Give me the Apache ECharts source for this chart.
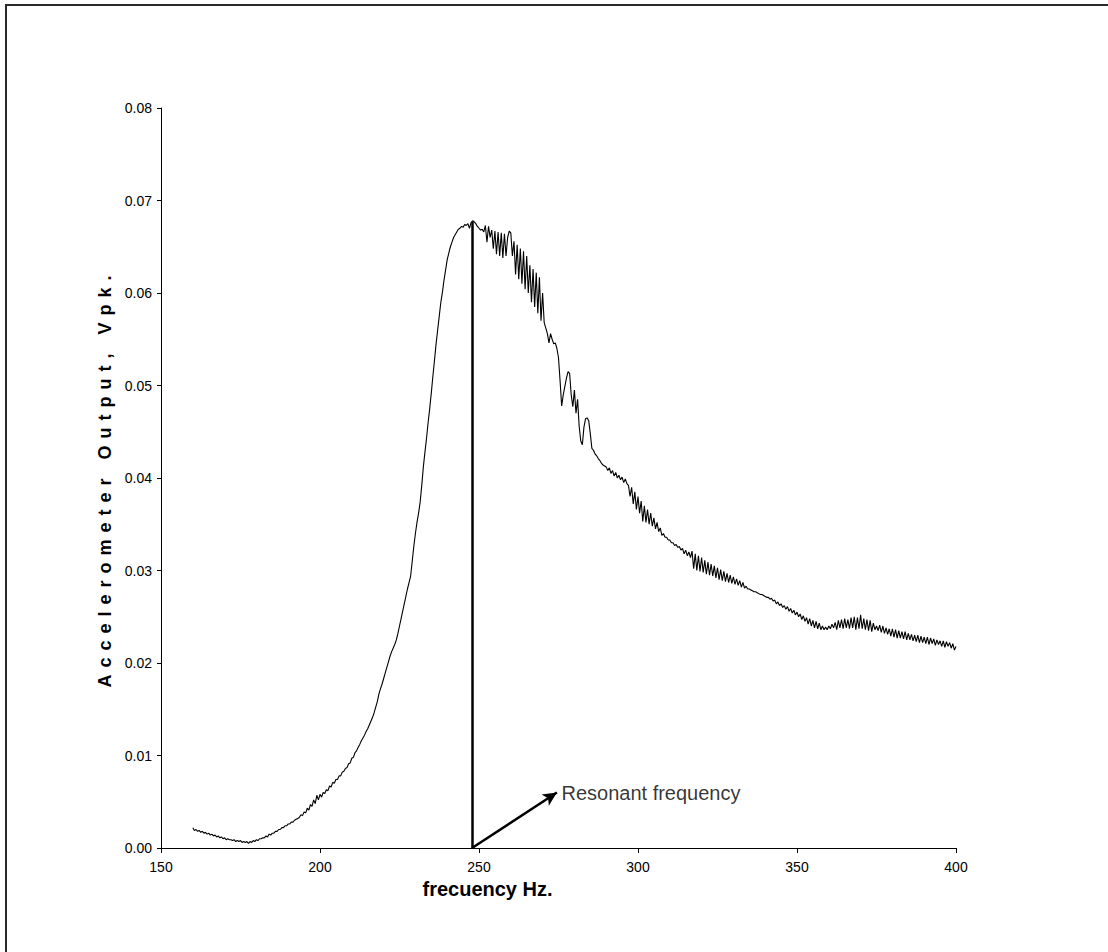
<!DOCTYPE html>
<html>
<head>
<meta charset="utf-8">
<script src="https://cdn.jsdelivr.net/npm/echarts@6/dist/echarts.min.js"></script>
<style>
  html, body { margin: 0; padding: 0; background: #fff; }
  #chart { width: 1108px; height: 952px; }
</style>
</head>
<body>
<div id="chart"></div>
<script>
// ---- data ----
var xTitle = 'frecuency Hz.';
var yTitle = 'Accelerometer Output, Vpk.';
var xTicks = [150, 200, 250, 300, 350, 400];
var yTicks = [0, 0.01, 0.02, 0.03, 0.04, 0.05, 0.06, 0.07, 0.08];

// sampling grid of the measured sweep: start frequency and step (Hz)
var freqStart = 160;
var freqStep = 0.5;

// accelerometer output (Vpk), one value every 0.5 Hz from 160 Hz to 400 Hz
var amplitude = [
  // 160
  0.0022,0.0019,0.0020,0.0018,0.0019,0.0017,0.0018,0.0016,0.0017,0.0015,
  // 165
  0.0016,0.0014,0.0015,0.0013,0.0014,0.0012,0.0013,0.0011,0.0012,0.0010,
  // 170
  0.0011,0.0009,0.0010,0.0009,0.0009,0.0008,0.0009,0.0007,0.0008,0.0007,
  // 175
  0.0008,0.0006,0.0007,0.0006,0.0007,0.0005,0.0007,0.0006,0.0008,0.0007,
  // 180
  0.0009,0.0008,0.0010,0.0010,0.0011,0.0011,0.0013,0.0012,0.0015,0.0014,
  // 185
  0.0016,0.0016,0.0018,0.0018,0.0020,0.0020,0.0022,0.0022,0.0024,0.0024,
  // 190
  0.0026,0.0026,0.0028,0.0028,0.0030,0.0031,0.0032,0.0033,0.0036,0.0035,
  // 195
  0.0039,0.0038,0.0043,0.0041,0.0047,0.0045,0.0052,0.0048,0.0057,0.0052,
  // 200
  0.0058,0.0055,0.0060,0.0059,0.0063,0.0062,0.0067,0.0066,0.0071,0.0070,
  // 205
  0.0074,0.0074,0.0078,0.0078,0.0082,0.0083,0.0086,0.0087,0.0091,0.0092,
  // 210
  0.0097,0.0098,0.0103,0.0105,0.0109,0.0112,0.0116,0.0119,0.0122,0.0126,
  // 215
  0.0129,0.0133,0.0137,0.0141,0.0146,0.0152,0.0158,0.0166,0.0172,0.0177,
  // 220
  0.0183,0.0189,0.0195,0.0201,0.0207,0.0212,0.0216,0.0220,0.0225,0.0232,
  // 225
  0.0240,0.0248,0.0256,0.0264,0.0272,0.0280,0.0287,0.0294,0.0310,0.0326,
  // 230
  0.0340,0.0352,0.0362,0.0374,0.0392,0.0412,0.0428,0.0443,0.0460,0.0475,
  // 235
  0.0492,0.0510,0.0527,0.0545,0.0560,0.0575,0.0590,0.0601,0.0614,0.0625,
  // 240
  0.0636,0.0643,0.0650,0.0655,0.0660,0.0663,0.0666,0.0669,0.0670,0.0672,
  // 245
  0.0671,0.0674,0.0673,0.0675,0.0670,0.0676,0.0678,0.0677,0.0675,0.0672,
  // 250
  0.0670,0.0668,0.0669,0.0666,0.0673,0.0655,0.0672,0.0660,0.0668,0.0648,
  // 255
  0.0667,0.0642,0.0666,0.0640,0.0665,0.0638,0.0664,0.0640,0.0660,0.0667,
  // 260
  0.0665,0.0640,0.0656,0.0620,0.0652,0.0615,0.0648,0.0610,0.0645,0.0604,
  // 265
  0.0640,0.0600,0.0630,0.0590,0.0626,0.0585,0.0622,0.0578,0.0617,0.0570,
  // 270
  0.0600,0.0568,0.0562,0.0556,0.0546,0.0556,0.0550,0.0545,0.0546,0.0540,
  // 275
  0.0530,0.0505,0.0478,0.0490,0.0499,0.0508,0.0515,0.0513,0.0490,0.0477,
  // 280
  0.0495,0.0470,0.0485,0.0456,0.0440,0.0436,0.0455,0.0464,0.0465,0.0462,
  // 285
  0.0448,0.0432,0.0430,0.0426,0.0424,0.0421,0.0419,0.0416,0.0414,0.0413,
  // 290
  0.0412,0.0408,0.0411,0.0405,0.0408,0.0402,0.0406,0.0400,0.0403,0.0398,
  // 295
  0.0401,0.0395,0.0399,0.0394,0.0392,0.0380,0.0390,0.0372,0.0385,0.0366,
  // 300
  0.0380,0.0362,0.0375,0.0353,0.0370,0.0352,0.0366,0.0350,0.0362,0.0348,
  // 305
  0.0357,0.0345,0.0352,0.0342,0.0346,0.0338,0.0340,0.0336,0.0336,0.0333,
  // 310
  0.0333,0.0330,0.0330,0.0327,0.0328,0.0325,0.0326,0.0322,0.0324,0.0318,
  // 315
  0.0322,0.0316,0.0320,0.0314,0.0321,0.0302,0.0318,0.0300,0.0316,0.0299,
  // 320
  0.0314,0.0298,0.0311,0.0296,0.0309,0.0295,0.0307,0.0294,0.0305,0.0292,
  // 325
  0.0303,0.0290,0.0301,0.0289,0.0299,0.0288,0.0297,0.0287,0.0295,0.0286,
  // 330
  0.0293,0.0285,0.0291,0.0284,0.0289,0.0282,0.0287,0.0281,0.0283,0.0280,
  // 335
  0.0280,0.0279,0.0278,0.0277,0.0277,0.0276,0.0275,0.0274,0.0274,0.0273,
  // 340
  0.0272,0.0271,0.0271,0.0269,0.0270,0.0267,0.0268,0.0264,0.0266,0.0262,
  // 345
  0.0264,0.0260,0.0262,0.0258,0.0261,0.0256,0.0259,0.0254,0.0257,0.0252,
  // 350
  0.0255,0.0250,0.0253,0.0247,0.0251,0.0245,0.0249,0.0242,0.0248,0.0240,
  // 355
  0.0246,0.0238,0.0245,0.0237,0.0243,0.0236,0.0240,0.0236,0.0239,0.0236,
  // 360
  0.0240,0.0237,0.0242,0.0238,0.0244,0.0236,0.0246,0.0238,0.0247,0.0237,
  // 365
  0.0248,0.0238,0.0247,0.0237,0.0249,0.0238,0.0250,0.0236,0.0249,0.0237,
  // 370
  0.0252,0.0237,0.0248,0.0236,0.0247,0.0235,0.0246,0.0234,0.0243,0.0236,
  // 375
  0.0240,0.0235,0.0241,0.0233,0.0240,0.0232,0.0238,0.0231,0.0237,0.0229,
  // 380
  0.0237,0.0228,0.0236,0.0227,0.0235,0.0227,0.0234,0.0226,0.0234,0.0225,
  // 385
  0.0232,0.0225,0.0231,0.0224,0.0230,0.0223,0.0230,0.0222,0.0229,0.0222,
  // 390
  0.0228,0.0221,0.0228,0.0220,0.0227,0.0221,0.0226,0.0219,0.0225,0.0220,
  // 395
  0.0224,0.0218,0.0224,0.0217,0.0223,0.0218,0.0222,0.0216,0.0221,0.0214,
  // 400
  0.0218
];

// annotation: resonant frequency marker and the arrow to its label
var resonantFreq = 247.8;
var resonantPeak = 0.0677;
var arrowTip = [274.5, 0.0060];
var annotationLabel = 'Resonant frequency';
var labelAnchor = [275.3, 0.0060];

// ---- build ----
var curve = amplitude.map(function (v, i) { return [freqStart + i * freqStep, v]; });

var chart = echarts.init(document.getElementById('chart'), null, { renderer: 'svg' });
var axisFont = 'Arial, "Liberation Sans", sans-serif';

chart.setOption({
  animation: false,
  backgroundColor: '#ffffff',
  graphic: [{
    type: 'rect',
    shape: { x: 6, y: 5, width: 1200, height: 1000 },
    style: { fill: 'none', stroke: '#2a2a2a', lineWidth: 2 },
    silent: true
  }],
  grid: { left: 161, right: 152, top: 108, bottom: 104, containLabel: false },
  xAxis: {
    type: 'value',
    min: xTicks[0],
    max: xTicks[xTicks.length - 1],
    interval: xTicks[1] - xTicks[0],
    name: xTitle,
    nameLocation: 'middle',
    nameGap: 26,
    nameTextStyle: {
      fontFamily: axisFont, fontSize: 20, fontWeight: 'bold', color: '#000',
      padding: [0, 142, 0, 0]
    },
    axisLine: { show: true, lineStyle: { color: '#000', width: 1 } },
    axisTick: { show: true, inside: false, length: 5, lineStyle: { color: '#000' } },
    axisLabel: { fontFamily: axisFont, fontSize: 14, color: '#000', margin: 12 },
    splitLine: { show: false }
  },
  yAxis: {
    type: 'value',
    min: yTicks[0],
    max: yTicks[yTicks.length - 1],
    interval: 0.01,
    name: yTitle,
    nameLocation: 'middle',
    nameGap: 40,
    nameTextStyle: { fontFamily: axisFont, fontSize: 18, fontWeight: 'bold', color: '#000' },
    axisLine: { show: true, lineStyle: { color: '#000', width: 1 } },
    axisTick: { show: true, inside: false, length: 4, lineStyle: { color: '#000' } },
    axisLabel: {
      fontFamily: axisFont, fontSize: 14, color: '#000', margin: 9,
      formatter: function (v) { return v.toFixed(2); }
    },
    splitLine: { show: false }
  },
  series: [
    {
      type: 'line',
      data: curve,
      showSymbol: false,
      symbol: 'none',
      lineStyle: { color: '#000', width: 1.1 },
      silent: true,
      z: 2
    },
    {
      type: 'scatter',
      data: [labelAnchor],
      symbolSize: 0,
      silent: true,
      label: {
        show: true,
        position: 'right',
        distance: 2,
        formatter: annotationLabel,
        fontFamily: axisFont,
        fontSize: 20,
        color: '#000'
      },
      markLine: {
        silent: true,
        animation: false,
        label: { show: false },
        lineStyle: { color: '#000', width: 2.5, type: 'solid' },
        symbolSize: [10, 14],
        data: [
          [
            { coord: [resonantFreq, 0], symbol: 'none' },
            { coord: [resonantFreq, resonantPeak], symbol: 'none' }
          ],
          [
            { coord: [resonantFreq, 0], symbol: 'none' },
            { coord: arrowTip, symbol: 'arrow' }
          ]
        ]
      },
      z: 3
    }
  ]
});

// widen the letter spacing of the vertical axis title, as in the reference
(function () {
  var texts = document.querySelectorAll('#chart text');
  for (var i = 0; i < texts.length; i++) {
    if (texts[i].textContent === yTitle) {
      texts[i].setAttribute('letter-spacing', '7');
      texts[i].style.letterSpacing = '7px';
    }
  }
})();
</script>
</body>
</html>
